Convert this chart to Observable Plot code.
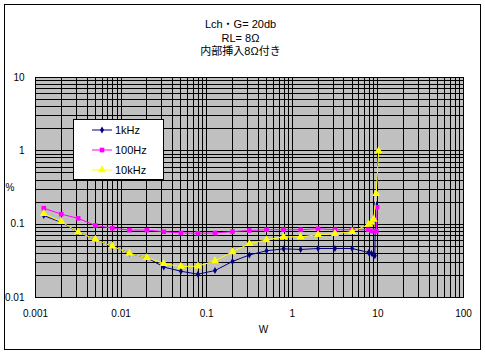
<!DOCTYPE html>
<html><head><meta charset="utf-8">
<script src="https://cdn.jsdelivr.net/npm/d3@7"></script>
<script src="https://cdn.jsdelivr.net/npm/@observablehq/plot@0.6"></script>
<style>
body{margin:0;background:#fff;}
#wrap{position:relative;width:485px;height:354px;overflow:hidden;}
#border{position:absolute;left:4px;top:4px;width:477px;height:346px;border:1px solid #000;box-sizing:border-box;pointer-events:none;}
#legend{position:absolute;left:73px;top:119px;width:91px;height:61px;border:1px solid #000;box-sizing:border-box;background:#fff;}
#legend svg{display:block;}
</style></head><body>
<div id="wrap"><div id="chart"></div><div id="border"></div><div id="legend"></div></div>
<script>
const titleLines = ["Lch・G= 20db", "RL= 8Ω", "内部挿入8Ω付き"];
const xLabel = "W";
const yLabel = "%";
const seriesNames = ["1kHz", "100Hz", "10kHz"];
const seriesColors = ["#000080", "#ff00ff", "#ffff00"];
const seriesSymbols = ["diamond", "square", "triangle"];

const x1k = [0.00125,0.002,0.00315,0.005,0.0079,0.0125,0.02,0.0315,0.05,0.079,0.125,0.2,0.315,0.5,0.79,1.25,2,3.15,5,7.8,8.4,8.9,9.2,9.4];
const y1k = [0.131,0.106,0.078,0.062,0.050,0.040,0.035,0.026,0.0228,0.0208,0.0233,0.031,0.038,0.0434,0.0461,0.0452,0.0466,0.0466,0.0466,0.0411,0.040,0.0378,0.037,0.19];
const x100 = [0.00125,0.002,0.00315,0.005,0.0079,0.0125,0.02,0.0315,0.05,0.079,0.125,0.2,0.315,0.5,0.79,1.25,2,3.15,5,7.7,8.4,9.0,9.6,9.8];
const y100 = [0.165,0.137,0.12,0.096,0.088,0.083,0.083,0.079,0.076,0.075,0.076,0.079,0.082,0.084,0.084,0.084,0.0865,0.084,0.084,0.084,0.081,0.080,0.080,0.17];
const x10k = [0.00125,0.002,0.00315,0.005,0.0079,0.0125,0.02,0.0315,0.05,0.079,0.125,0.2,0.315,0.5,0.79,1.25,2,3.15,5,7.8,8.4,8.96,9.55,10.2];
const y10k = [0.139,0.108,0.078,0.062,0.050,0.040,0.035,0.029,0.0265,0.0267,0.0316,0.042,0.054,0.061,0.067,0.067,0.072,0.074,0.079,0.099,0.106,0.116,0.26,1.0];

const xTicks = [0.001, 0.01, 0.1, 1, 10, 100];
const xTickLabels = ["0.001", "0.01", "0.1", "1", "10", "100"];
const yTicks = [0.01, 0.1, 1, 10];
const yTickLabels = ["0.01", "0.1", "1", "10"];

const seriesX = [x1k, x100, x10k];
const seriesY = [y1k, y100, y10k];

// minor log grid positions (1..9 per decade)
function logGrid(lo, hi) {
  const out = [];
  for (let e = lo; e < hi; e++) for (let m = 1; m <= 9; m++) out.push(m * Math.pow(10, e));
  out.push(Math.pow(10, hi));
  return out;
}
const gridXValues = logGrid(-3, 2);
const gridYValues = logGrid(-2, 1);

const fontFamily = '"Liberation Sans","Noto Sans CJK JP",sans-serif';

const seriesMarks = [];
seriesNames.forEach((name, i) => {
  const data = seriesX[i].map((x, j) => ({x, y: seriesY[i][j]}));
  seriesMarks.push(Plot.line(data, {x: "x", y: "y", stroke: seriesColors[i], strokeWidth: 1}));
  seriesMarks.push(Plot.dot(data, {x: "x", y: "y", symbol: seriesSymbols[i], fill: seriesColors[i], stroke: "none",
    r: i === 0 ? 2.1 : (i === 1 ? 2.6 : 3)}));
});

const titleMarks = titleLines.map((t, i) =>
  Plot.text([t], {text: d => d, frameAnchor: "top", dx: -9, dy: -57 + 13.5 * i, fontSize: 11, fill: "#000"}));

const plot = Plot.plot({
  width: 485, height: 354,
  marginLeft: 35, marginRight: 22, marginTop: 77, marginBottom: 57,
  style: {fontFamily, fontSize: "10px", background: "transparent", color: "#000"},
  x: {type: "log", domain: [0.001, 100]},
  y: {type: "log", domain: [0.01, 10]},
  marks: [
    Plot.frame({fill: "#c0c0c0"}),
    Plot.gridX(gridXValues, {stroke: "#000", strokeOpacity: 1, strokeWidth: 1, shapeRendering: "crispEdges"}),
    Plot.gridY(gridYValues, {stroke: "#000", strokeOpacity: 1, strokeWidth: 1, shapeRendering: "crispEdges"}),
    Plot.frame({stroke: "#000", shapeRendering: "crispEdges"}),
    Plot.axisX(xTicks, {tickSize: 0, tickPadding: 12, tickFormat: d => xTickLabels[xTicks.indexOf(d)], label: null, fill: "#000"}),
    Plot.axisY(yTicks, {tickSize: 0, tickPadding: 11, tickFormat: d => yTickLabels[yTicks.indexOf(d)], label: null, fill: "#000"}),
    ...seriesMarks,
    ...titleMarks,
    Plot.text([xLabel], {text: d => d, frameAnchor: "bottom", dx: 14, dy: 35, fontSize: 10, fill: "#000"}),
    Plot.text([yLabel], {text: d => d, frameAnchor: "left", dx: -30, textAnchor: "start", fontSize: 10, fill: "#000"})
  ]
});
document.getElementById("chart").appendChild(plot);

// legend
const lg = d3.select("#legend").append("svg").attr("width", 89).attr("height", 59);
seriesNames.forEach((name, i) => {
  const cy = 10 + 20 * i;
  lg.append("line").attr("x1", 18).attr("x2", 38).attr("y1", cy).attr("y2", cy)
    .attr("stroke", seriesColors[i]).attr("stroke-width", 1);
  const symMap = {diamond: d3.symbolDiamond, square: d3.symbolSquare, triangle: d3.symbolTriangle};
  const r = i === 0 ? 2.1 : (i === 1 ? 2.6 : 3);
  lg.append("path").attr("d", d3.symbol(symMap[seriesSymbols[i]], Math.PI * r * r)())
    .attr("transform", `translate(28,${cy})`).attr("fill", seriesColors[i]);
  lg.append("text").attr("x", 41).attr("y", cy).attr("dy", "0.35em")
    .attr("font-family", fontFamily).attr("font-size", 11).text(name);
});
</script>
</body></html>
